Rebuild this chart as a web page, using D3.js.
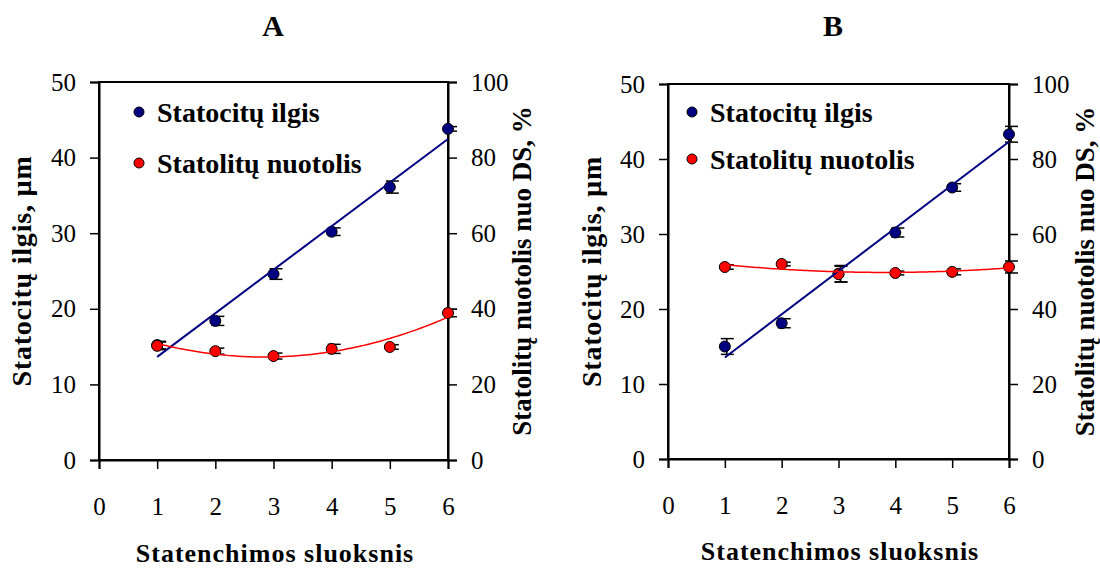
<!DOCTYPE html>
<html><head><meta charset="utf-8">
<script src="https://cdn.jsdelivr.net/npm/d3@7"></script>
<style>
html,body{margin:0;padding:0;background:#fff;}
svg{display:block;}
svg text{font-family:"Liberation Serif","Times New Roman",Times,serif !important;}
</style></head>
<body>
<svg id="chart" width="1100" height="571"></svg>
<script>
// ---- data ----
const layers = [1, 2, 3, 4, 5, 6];
const xTicks = [0, 1, 2, 3, 4, 5, 6];
const leftTicks = [0, 10, 20, 30, 40, 50];
const rightTicks = [0, 20, 40, 60, 80, 100];
const panelTitles = ["A", "B"];
const seriesNames = ["Statocitų ilgis", "Statolitų nuotolis"];
const leftAxisTitle = "Statocitų ilgis, µm";
const rightAxisTitle = "Statolitų nuotolis nuo DS, %";
const xAxisTitle = "Statenchimos sluoksnis";

// Panel A
const lengthA = [15.2, 18.4, 24.6, 30.2, 36.1, 43.8];
const lengthErrA = [0.5, 0.6, 0.7, 0.5, 0.8, 0.3];
const distA = [30.2, 28.8, 27.5, 29.4, 29.9, 38.9];
const distErrA = [1.0, 0.8, 0.8, 1.2, 0.6, 1.0];
// Panel B
const lengthB = [15.0, 18.1, 24.7, 30.2, 36.2, 43.3];
const lengthErrB = [1.05, 0.6, 1.1, 0.6, 0.5, 1.05];
const distB = [51.2, 52.0, 49.3, 49.6, 49.9, 51.2];
const distErrB = [0.6, 0.5, 2.1, 0.5, 0.8, 1.6];

// ---- layout ----
const FONT = '"Liberation Serif","Times New Roman",Times,serif';
const panels = [
  {title: panelTitles[0], len: lengthA, lenErr: lengthErrA, dist: distA, distErr: distErrA,
   x0: 99, x1: 448, yTop: 82, yBot: 460, titleX: 273, titleY: 36,
   lTitleX: 31, rTitleX: 531, xTitleX: 275, xTitleY: 562, xLabY: 515,
   legX: 139, legY: [112, 163]},
  {title: panelTitles[1], len: lengthB, lenErr: lengthErrB, dist: distB, distErr: distErrB,
   x0: 668, x1: 1009, yTop: 84, yBot: 459, titleX: 833, titleY: 36,
   lTitleX: 601, rTitleX: 1094, xTitleX: 840, xTitleY: 560, xLabY: 514,
   legX: 692, legY: [112, 159]}
];
const BLUE = "#000080", RED = "#ff0000";

function linFit(xs, ys) {
  const mx = d3.mean(xs), my = d3.mean(ys);
  let sxy = 0, sxx = 0;
  xs.forEach((x, i) => { sxy += (x - mx) * (ys[i] - my); sxx += (x - mx) ** 2; });
  const b = sxy / sxx;
  return x => my + b * (x - mx);
}
function quadFit(xs, ys) {
  let S = [[0,0,0],[0,0,0],[0,0,0]], T = [0,0,0];
  xs.forEach((x, i) => {
    const v = [1, x, x * x];
    for (let r = 0; r < 3; r++) { T[r] += v[r] * ys[i]; for (let c = 0; c < 3; c++) S[r][c] += v[r] * v[c]; }
  });
  const M = S.map((row, r) => row.concat([T[r]]));
  for (let c = 0; c < 3; c++) {
    for (let r = c + 1; r < 3; r++) {
      const f = M[r][c] / M[c][c];
      for (let k = c; k < 4; k++) M[r][k] -= f * M[c][k];
    }
  }
  const co = [0, 0, 0];
  for (let r = 2; r >= 0; r--) {
    let s = M[r][3];
    for (let k = r + 1; k < 3; k++) s -= M[r][k] * co[k];
    co[r] = s / M[r][r];
  }
  return x => co[0] + co[1] * x + co[2] * x * x;
}

const svg = d3.select("#chart");

panels.forEach(p => {
  const g = svg.append("g").attr("font-family", FONT);
  const x = d3.scaleLinear().domain([0, 6]).range([p.x0, p.x1]);
  const yL = d3.scaleLinear().domain([0, 50]).range([p.yBot, p.yTop]);
  const yR = d3.scaleLinear().domain([0, 100]).range([p.yBot, p.yTop]);

  g.append("rect").attr("x", p.x0).attr("y", p.yTop).attr("width", p.x1 - p.x0).attr("height", p.yBot - p.yTop)
    .attr("fill", "none").attr("stroke", "#000").attr("stroke-width", 2);

  const axL = d3.axisLeft(yL).tickValues(leftTicks).tickSize(9).tickPadding(14);
  const axR = d3.axisRight(yR).tickValues(rightTicks).tickSize(9).tickPadding(14);
  const axB = d3.axisBottom(x).tickValues(xTicks).tickSize(9).tickFormat(d3.format("d"));
  const gl = g.append("g").attr("transform", `translate(${p.x0},0)`).call(axL);
  const gr = g.append("g").attr("transform", `translate(${p.x1},0)`).call(axR);
  const gb = g.append("g").attr("transform", `translate(0,${p.yBot})`).call(axB);
  [gl, gr, gb].forEach(a => {
    a.attr("font-family", FONT).attr("font-size", 25);
    a.select(".domain").attr("stroke", "#000").attr("stroke-width", 2);
    a.selectAll(".tick line").attr("stroke", "#000").attr("stroke-width", 1.5);
    a.selectAll(".tick text").attr("fill", "#000").attr("font-family", FONT).attr("font-size", 25);
  });
  gb.selectAll(".tick text").attr("dy", null).attr("y", p.xLabY - p.yBot);

  const drawErr = (vals, errs, scale) => {
    const eg = g.append("g").attr("stroke", "#000").attr("stroke-width", 1.5);
    layers.forEach((L, i) => {
      const cx = x(L) + 2, top = scale(vals[i] + errs[i]), bot = scale(vals[i] - errs[i]);
      eg.append("line").attr("x1", cx).attr("x2", cx).attr("y1", top).attr("y2", bot);
      eg.append("line").attr("x1", cx - 6).attr("x2", cx + 7).attr("y1", top).attr("y2", top);
      eg.append("line").attr("x1", cx - 6).attr("x2", cx + 7).attr("y1", bot).attr("y2", bot);
    });
  };
  drawErr(p.len, p.lenErr, yL);
  drawErr(p.dist, p.distErr, yR);

  g.append("g").selectAll("circle").data(layers).join("circle")
    .attr("cx", d => x(d)).attr("cy", (d, i) => yL(p.len[i])).attr("r", 5.5)
    .attr("fill", BLUE).attr("stroke", "#000").attr("stroke-width", 1);
  g.append("g").selectAll("circle").data(layers).join("circle")
    .attr("cx", d => x(d)).attr("cy", (d, i) => yR(p.dist[i])).attr("r", 5.5)
    .attr("fill", RED).attr("stroke", "#000").attr("stroke-width", 1);

  const lf = linFit(layers, p.len);
  g.append("line").attr("x1", x(1)).attr("y1", yL(lf(1))).attr("x2", x(6)).attr("y2", yL(lf(6)))
    .attr("stroke", BLUE).attr("stroke-width", 2);
  const qf = quadFit(layers, p.dist);
  const qs = d3.range(1, 6.0001, 0.05);
  g.append("path").datum(qs)
    .attr("d", d3.line().x(d => x(d)).y(d => yR(qf(d))))
    .attr("fill", "none").attr("stroke", RED).attr("stroke-width", 1.5);

  [BLUE, RED].forEach((c, i) => {
    g.append("circle").attr("cx", p.legX).attr("cy", p.legY[i]).attr("r", 5)
      .attr("fill", c).attr("stroke", "#000").attr("stroke-width", 1);
    g.append("text").attr("x", p.legX + 18).attr("y", p.legY[i] + 10)
      .attr("font-size", 28).attr("font-weight", "bold").text(seriesNames[i]);
  });

  g.append("text").attr("x", p.titleX).attr("y", p.titleY).attr("text-anchor", "middle")
    .attr("font-size", 30).attr("font-weight", "bold").text(p.title);
  const cy = (p.yTop + p.yBot) / 2;
  g.append("text").attr("transform", `translate(${p.lTitleX},${cy}) rotate(-90)`)
    .attr("text-anchor", "middle").attr("font-size", 28).attr("letter-spacing", 0.8)
    .attr("font-weight", "bold").text(leftAxisTitle);
  g.append("text").attr("transform", `translate(${p.rTitleX},${cy}) rotate(-90)`)
    .attr("text-anchor", "middle").attr("font-size", 27).attr("font-weight", "bold").text(rightAxisTitle);
  g.append("text").attr("x", p.xTitleX).attr("y", p.xTitleY).attr("text-anchor", "middle")
    .attr("font-size", 26).attr("letter-spacing", 1).attr("font-weight", "bold").text(xAxisTitle);
});
</script>
</body></html>
